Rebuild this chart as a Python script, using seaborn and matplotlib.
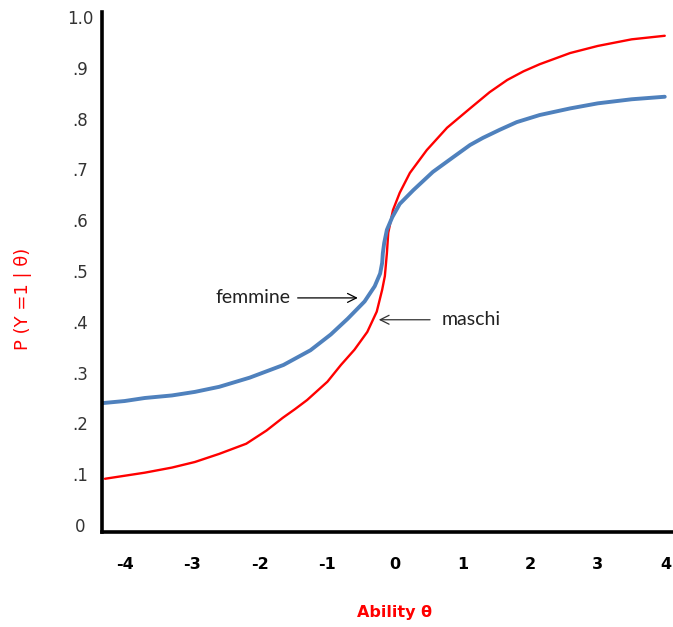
import matplotlib
matplotlib.use("Agg")
import matplotlib.pyplot as plt
import seaborn as sns
import pandas as pd

# ---- data ----
maschi_x = [-4.29, -3.70, -3.30, -2.96, -2.60, -2.20, -1.90, -1.66, -1.48, -1.30,
            -1.00, -0.80, -0.60, -0.41, -0.27, -0.19, -0.15, -0.12, -0.10, -0.03,
            0.07, 0.22, 0.47, 0.77, 1.11, 1.40, 1.66, 1.90, 2.14, 2.59,
            3.00, 3.50, 3.99]
maschi_y = [0.091, 0.103, 0.113, 0.124, 0.140, 0.160, 0.186, 0.211, 0.228, 0.246,
            0.282, 0.315, 0.345, 0.380, 0.420, 0.463, 0.490, 0.535, 0.575, 0.620,
            0.654, 0.693, 0.738, 0.782, 0.820, 0.852, 0.876, 0.893, 0.907, 0.929,
            0.943, 0.956, 0.963]

femmine_x = [-4.32, -4.00, -3.70, -3.30, -2.96, -2.60, -2.15, -1.65, -1.25, -0.95,
             -0.70, -0.45, -0.30, -0.22, -0.19, -0.18, -0.16, -0.12, -0.04, 0.07,
             0.27, 0.56, 0.86, 1.11, 1.30, 1.55, 1.80, 2.14, 2.59, 3.00,
             3.50, 3.99]
femmine_y = [0.240, 0.244, 0.250, 0.255, 0.262, 0.272, 0.290, 0.315, 0.344, 0.375,
             0.406, 0.440, 0.470, 0.495, 0.516, 0.535, 0.555, 0.581, 0.606, 0.632,
             0.659, 0.695, 0.724, 0.748, 0.762, 0.778, 0.793, 0.807, 0.820, 0.830,
             0.838, 0.843]

x_ticks = [-4, -3, -2, -1, 0, 1, 2, 3, 4]
x_ticklabels = ["-4", "-3", "-2", "-1", "0", "1", "2", "3", "4"]
y_ticks = [0.0, 0.1, 0.2, 0.3, 0.4, 0.5, 0.6, 0.7, 0.8, 0.9, 1.0]
y_ticklabels = ["0", ".1", ".2", ".3", ".4", ".5", ".6", ".7", ".8", ".9", "1.0"]

sns.set_style("white")
plt.rcParams["font.family"] = ["DejaVu Sans"]

fig = plt.figure(figsize=(6.73, 6.27), dpi=100)
ax = fig.add_axes([102 / 673, 95 / 627, 571 / 673, 520 / 627])

df_m = pd.DataFrame({"x": maschi_x, "y": maschi_y})
df_f = pd.DataFrame({"x": femmine_x, "y": femmine_y})
sns.lineplot(data=df_m, x="x", y="y", sort=False, estimator=None, ax=ax,
             color="#FF0000", linewidth=1.7)
sns.lineplot(data=df_f, x="x", y="y", sort=False, estimator=None, ax=ax,
             color="#4F81BD", linewidth=2.8)

ax.set_xlim(-4.334, 4.112)
ax.set_ylim(-0.0138, 1.0098)

for s in ["top", "right"]:
    ax.spines[s].set_visible(False)
for s in ["left", "bottom"]:
    ax.spines[s].set_color("black")
    ax.spines[s].set_linewidth(2.6)

ax.set_xticks(x_ticks)
ax.set_xticklabels(x_ticklabels, fontweight="bold", fontsize=11.5, color="black")
ax.set_yticks(y_ticks)
ax.set_yticklabels(y_ticklabels, fontsize=12, color="#333333", ha="center")
ax.tick_params(axis="x", length=0, pad=18)
ax.tick_params(axis="y", length=0, pad=15.5)

ax.set_xlabel("Ability θ", color="#FF0000", fontweight="bold", fontsize=11.5)
ax.xaxis.set_label_coords(0.513, -0.141)
ax.set_ylabel("P (Y =1 | θ)", color="#FF0000", fontsize=13)
ax.yaxis.set_label_coords(-0.123, 0.448)

ax.annotate("femmine", xy=(-0.55, 0.447), xytext=(-1.55, 0.447),
            ha="right", va="center", fontsize=14, color="#222222",
            fontfamily=["Lato", "DejaVu Sans"],
            arrowprops=dict(arrowstyle="->", color="black", lw=0.9,
                            shrinkA=3, shrinkB=0, mutation_scale=16))
ax.annotate("maschi", xy=(-0.24, 0.404), xytext=(0.69, 0.404),
            ha="left", va="center", fontsize=14, color="#222222",
            fontfamily=["Lato", "DejaVu Sans"],
            arrowprops=dict(arrowstyle="->", color="#333333", lw=0.9,
                            shrinkA=6, shrinkB=0, mutation_scale=16))

fig.savefig("out.png", dpi=100)
